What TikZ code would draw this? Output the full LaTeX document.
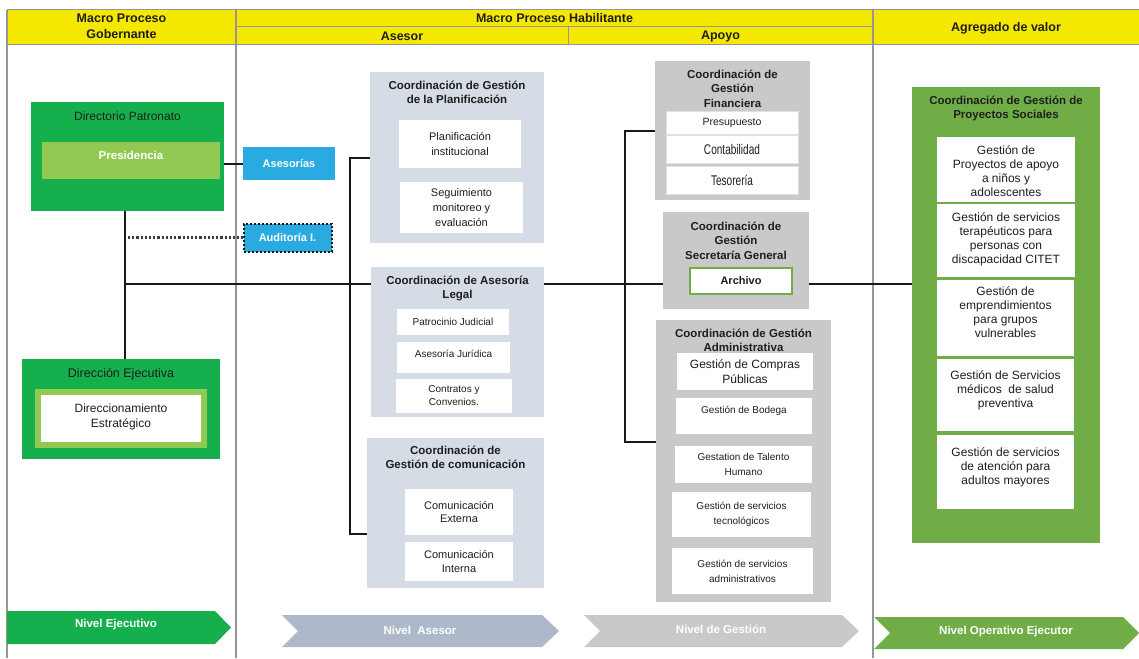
\documentclass[tikz,border=0pt]{standalone}
\usepackage{fontspec}
\setmainfont{Liberation Sans}
\newfontfamily\estrecha{Liberation Sans}[FakeStretch=0.72]
\usetikzlibrary{positioning}
\definecolor{amarillo}{RGB}{245,232,0}
\definecolor{verdeos}{RGB}{21,176,77}
\definecolor{verdecl}{RGB}{146,201,82}
\definecolor{celeste}{RGB}{41,171,226}
\definecolor{grisazul}{RGB}{214,220,229}
\definecolor{gris}{RGB}{201,201,201}
\definecolor{grisflecha}{RGB}{173,185,202}
\definecolor{verdeval}{RGB}{112,173,71}
\definecolor{texto}{RGB}{30,30,30}
\definecolor{linea}{RGB}{150,150,150}
\definecolor{negro}{RGB}{25,25,25}

\begin{document}
\begin{tikzpicture}[x=1pt,y=-1pt,
	conector/.style={draw=negro, line width=2pt},
	punteado/.style={draw=negro!85, dotted, line width=2.2pt},
	cabecera/.style={align=center, inner sep=0pt, text=texto, font=\fontsize{12.5}{16}\selectfont\bfseries},
	titulo/.style={anchor=north, align=center, inner sep=0pt, text=texto, font=\fontsize{11.5}{14.5}\selectfont\bfseries},
	fondo/.style={inner sep=0pt},
	blanco/.style={fill=white, align=center, inner sep=0pt, text=texto, font=\fontsize{10}{15}\selectfont},
	medio/.style={font=\fontsize{11}{15}\selectfont},
	grande/.style={font=\fontsize{12}{14}\selectfont},
	arriba/.style={anchor=north, align=center, inner sep=0pt, text=texto, font=\fontsize{12}{14}\selectfont},
	azul/.style={fill=celeste, text=white, inner sep=0pt, font=\fontsize{11}{13}\selectfont\bfseries},
	nivel/.style={text=white, inner sep=0pt, font=\fontsize{11.5}{13}\selectfont\bfseries}]
\useasboundingbox (0,0) rectangle (1139,658);
\fill[white] (0,0) rectangle (1139,658);

% encabezado
\fill[amarillo] (7,10) rectangle (1139,45);
\draw[linea, line width=1pt] (7,10) -- (1139,10) (7,45) -- (1139,45) (236,27) -- (873,27) (568,27) -- (568,45);
\draw[linea, line width=1.2pt] (7,10) -- (7,658) (236,10) -- (236,658) (873,10) -- (873,658);
\node[cabecera] (gob) at (121.5,26) {Macro Proceso\\Gobernante};
\node[cabecera] (hab) at (554.5,18) {Macro Proceso Habilitante};
\node[cabecera] (ase) at (402,36) {Asesor};
\node[cabecera] (apo) at (720.5,36) {Apoyo};
\node[cabecera] (val) at (1006,28) {Agregado de valor};

% gobernante
\node[fondo, fill=verdeos, minimum width=193, minimum height=109] (dirpat) at (127.5,156.5) {};
\node[titulo, font=\fontsize{12}{14}\selectfont] (dirpatT) at ([yshift=-9.7pt]dirpat.north) {Directorio Patronato};
\node[fondo, fill=verdecl, minimum width=178, minimum height=37, text=white, text depth=11pt, font=\fontsize{11.5}{13}\selectfont\bfseries] (pres) at (131,160.5) {Presidencia};
\node[azul, minimum width=92, minimum height=33] (ases) at (289,163.5) {Asesorías};
\node[azul, minimum width=88, minimum height=28, draw=negro, dotted, line width=2pt] (audit) at (287.5,237.5) {Auditoría I.};
\node[fondo, fill=verdeos, minimum width=198, minimum height=100] (direj) at (121,409) {};
\node[titulo, font=\fontsize{12.5}{14}\selectfont] (direjT) at ([yshift=-9.5pt]direj.north) {Dirección Ejecutiva};
\node[blanco, draw=verdecl, line width=6pt, minimum width=166, minimum height=53, text depth=6pt, font=\fontsize{12}{15.5}\selectfont] (direc) at (121,418.5) {Direccionamiento\\Estratégico};

% asesor
\node[fondo, fill=grisazul, minimum width=174, minimum height=171] (plan) at (457,157.5) {};
\node[titulo] (planT) at ([yshift=-9pt]plan.north) {Coordinación de Gestión\\de la Planificación};
\node[blanco, medio, minimum width=122, minimum height=48] (plan1) at (460,144) {Planificación\\institucional};
\node[blanco, medio, minimum width=123, minimum height=51] (plan2) at (461.5,207.5) {Seguimiento\\monitoreo y\\evaluación};
\node[fondo, fill=grisazul, minimum width=173, minimum height=150] (legal) at (457.5,342) {};
\node[titulo] (legalT) at ([yshift=-9pt]legal.north) {Coordinación de Asesoría\\Legal};
\node[blanco, minimum width=112, minimum height=26] (leg1) at (453,322) {Patrocinio Judicial};
\node[blanco, minimum width=113, minimum height=31, text depth=7pt] (leg2) at (453.5,357.5) {Asesoría Jurídica};
\node[blanco, minimum width=116, minimum height=34, font=\fontsize{10}{13}\selectfont] (leg3) at (454,396) {Contratos y\\Convenios.};
\node[fondo, fill=grisazul, minimum width=177, minimum height=150] (comu) at (455.5,513) {};
\node[titulo] (comuT) at ([yshift=-8pt]comu.north) {Coordinación de\\Gestión de comunicación};
\node[blanco, medio, minimum width=108, minimum height=46, font=\fontsize{11}{13.5}\selectfont] (com1) at (459,512) {Comunicación\\Externa};
\node[blanco, medio, minimum width=108, minimum height=39, font=\fontsize{11}{13.5}\selectfont] (com2) at (459,561.5) {Comunicación\\Interna};

% apoyo
\node[fondo, fill=gris, minimum width=155, minimum height=139] (fin) at (732.5,130.5) {};
\node[titulo] (finT) at ([yshift=-9pt]fin.north) {Coordinación de\\Gestión\\Financiera};
\node[blanco, draw=black!12, minimum width=132, minimum height=23, font=\fontsize{10.5}{13}\selectfont] (fin1) at (732,122.5) {Presupuesto};
\node[blanco, draw=black!12, minimum width=132, minimum height=28, font=\fontsize{14}{16}\estrecha] (fin2) at (732,149) {Contabilidad};
\node[blanco, draw=black!12, minimum width=132, minimum height=28, font=\fontsize{14}{16}\estrecha] (fin3) at (732,180) {Tesorería};
\node[fondo, fill=gris, minimum width=146, minimum height=97] (secre) at (736,260.5) {};
\node[titulo] (secreT) at ([yshift=-10pt]secre.north) {Coordinación de\\Gestión\\Secretaría General};
\node[blanco, draw=verdeval, line width=1.5pt, minimum width=102, minimum height=26, font=\fontsize{11}{13}\selectfont\bfseries] (arch) at (741,281) {Archivo};
\node[fondo, fill=gris, minimum width=175, minimum height=282] (adm) at (743.5,461) {};
\node[titulo] (admT) at ([yshift=-9pt]adm.north) {Coordinación de Gestión\\Administrativa};
\node[blanco, minimum width=136, minimum height=37, font=\fontsize{12}{14.5}\selectfont] (adm1) at (745,371.5) {Gestión de Compras\\Públicas};
\node[blanco, minimum width=136, minimum height=36, text depth=12pt] (adm2) at (744,416) {Gestión de Bodega};
\node[blanco, minimum width=137, minimum height=37] (adm3) at (743.5,464.5) {Gestation de Talento\\Humano};
\node[blanco, minimum width=139, minimum height=45] (adm4) at (741.5,514.5) {Gestión de servicios\\tecnológicos};
\node[blanco, minimum width=141, minimum height=46] (adm5) at (742.5,571) {Gestión de servicios\\administrativos};

% agregado de valor
\node[fondo, fill=verdeval, minimum width=188, minimum height=456] (proy) at (1006,315) {};
\node[titulo] (proyT) at ([yshift=-9pt]proy.north) {Coordinación de Gestión de\\Proyectos Sociales};
\node[blanco, minimum width=138, minimum height=65] (p1) at (1006,169.5) {};
\node[arriba] (p1T) at ([yshift=-9pt]p1.north) {Gestión de\\Proyectos de apoyo\\a niños y\\adolescentes};
\node[blanco, minimum width=138, minimum height=73] (p2) at (1006,240.5) {};
\node[arriba] (p2T) at ([yshift=-8.5pt]p2.north) {Gestión de servicios\\terapéuticos para\\personas con\\discapacidad CITET};
\node[blanco, minimum width=137, minimum height=76] (p3) at (1005.5,318) {};
\node[arriba] (p3T) at ([yshift=-7pt]p3.north) {Gestión de\\emprendimientos\\para grupos\\vulnerables};
\node[blanco, minimum width=137, minimum height=72] (p4) at (1005.5,395) {};
\node[arriba] (p4T) at ([yshift=-12pt]p4.north) {Gestión de Servicios\\médicos\ \ de salud\\preventiva};
\node[blanco, minimum width=137, minimum height=74] (p5) at (1005.5,472) {};
\node[arriba] (p5T) at ([yshift=-13pt]p5.north) {Gestión de servicios\\de atención para\\adultos mayores};

% conectores
\coordinate (tronco) at (125,284);
\coordinate (ramaA) at (350,534);
\coordinate (ramaB) at (625,442);
\draw[conector] (dirpat.south -| tronco) -- (direj.north -| tronco);
\draw[conector] (tronco) -- (tronco -| legal.west);
\draw[conector] (legal.east |- tronco) -- (secre.west |- tronco);
\draw[conector] (secre.east |- tronco) -- (proy.west |- tronco);
\draw[conector] (dirpat.east |- ases.west) -- (ases.west);
\draw[punteado] ([xshift=3pt]tronco |- audit.west) -- (audit.west);
\draw[conector] (plan.west) -| (ramaA) -- (ramaA -| comu.west);
\draw[conector] (fin.west) -| (ramaB) -- (ramaB -| adm.west);

% niveles
\fill[verdeos] (7,611) -- (215,611) -- (231,627.5) -- (215,644) -- (7,644) -- cycle;
\fill[grisflecha] (282,615) -- (542,615) -- (559,631) -- (542,647) -- (282,647) -- (298,631) -- cycle;
\fill[gris] (584,615) -- (842,615) -- (859,631) -- (842,647) -- (584,647) -- (600,631) -- cycle;
\fill[verdeval] (874,617) -- (1123,617) -- (1139,633) -- (1123,649) -- (874,649) -- (890,633) -- cycle;
\node[nivel] (nivEje) at (116,625) {Nivel Ejecutivo};
\node[nivel] (nivAse) at (420,630) {Nivel\ \ Asesor};
\node[nivel] (nivGes) at (721,629) {Nivel de Gestión};
\node[nivel] (nivOpe) at (1006,632) {Nivel Operativo Ejecutor};
\end{tikzpicture}
\end{document}
